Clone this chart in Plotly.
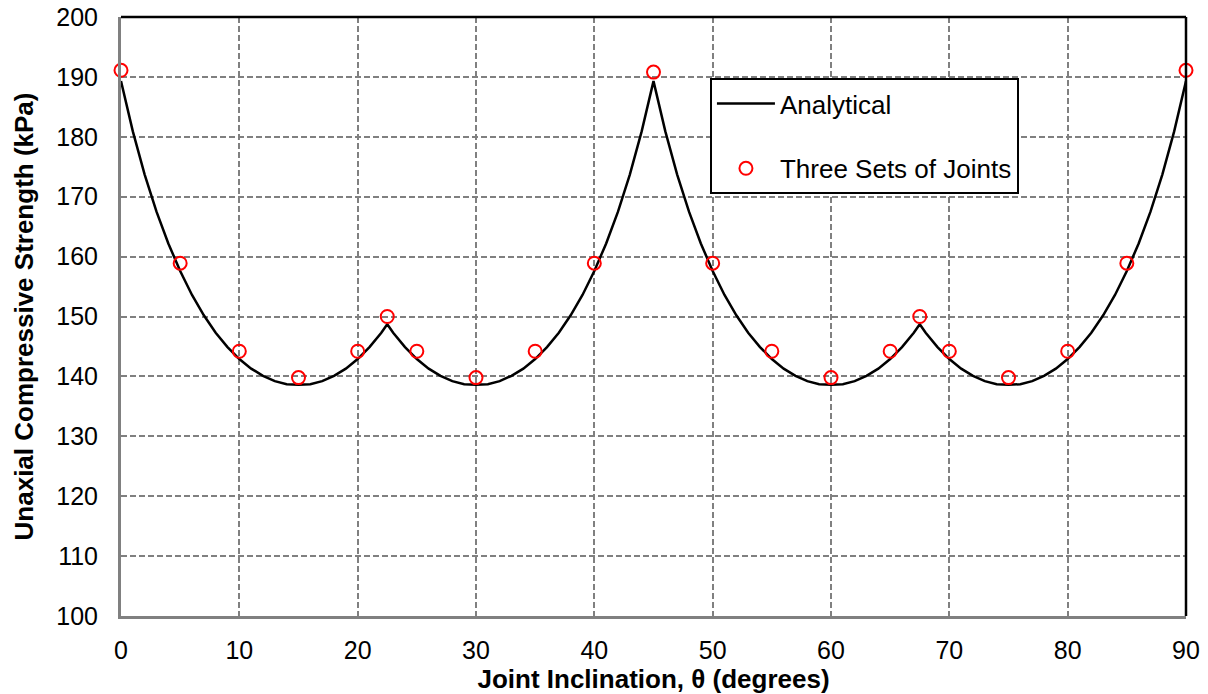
import plotly.graph_objects as go

# Analytical UCS curve (kPa) sampled along the joint inclination (degrees)
theta_analytical = [
    0, 1, 2, 3, 4, 5, 6, 7, 8, 9, 10, 11, 12, 13, 14, 15, 16, 17, 18, 19, 20, 21, 22, 22.5,
    23, 24, 25, 26, 27, 28, 29, 30, 31, 32, 33, 34, 35, 36, 37, 38, 39, 40, 41, 42, 43, 44, 45,
    46, 47, 48, 49, 50, 51, 52, 53, 54, 55, 56, 57, 58, 59, 60, 61, 62, 63, 64, 65, 66, 67, 67.5,
    68, 69, 70, 71, 72, 73, 74, 75, 76, 77, 78, 79, 80, 81, 82, 83, 84, 85, 86, 87, 88, 89, 90,
]
ucs_analytical = [
    189.3, 180.9, 173.7, 167.5, 162.2, 157.6, 153.6, 150.2, 147.3, 144.9, 142.9, 141.3,
    140.1, 139.2, 138.7, 138.6, 138.7, 139.2, 140.1, 141.3, 142.9, 144.9, 147.3, 148.7,
    147.3, 144.9, 142.9, 141.3, 140.1, 139.2, 138.7, 138.6, 138.7, 139.2, 140.1, 141.3,
    142.9, 144.9, 147.3, 150.2, 153.6, 157.6, 162.2, 167.5, 173.7, 180.9, 189.3,
    180.9, 173.7, 167.5, 162.2, 157.6, 153.6, 150.2, 147.3, 144.9, 142.9, 141.3,
    140.1, 139.2, 138.7, 138.6, 138.7, 139.2, 140.1, 141.3, 142.9, 144.9, 147.3, 148.7,
    147.3, 144.9, 142.9, 141.3, 140.1, 139.2, 138.7, 138.6, 138.7, 139.2, 140.1, 141.3,
    142.9, 144.9, 147.3, 150.2, 153.6, 157.6, 162.2, 167.5, 173.7, 180.9, 189.3,
]

# Numerical results for the model with three sets of joints
theta_joints = [0, 5, 10, 15, 20, 22.5, 25, 30, 35, 40, 45, 50, 55, 60, 65, 67.5, 70, 75, 80, 85, 90]
ucs_joints = [191.1, 158.9, 144.2, 139.8, 144.2, 150.0, 144.2, 139.8, 144.2, 158.9, 190.8,
              158.9, 144.2, 139.8, 144.2, 150.0, 144.2, 139.8, 144.2, 158.9, 191.1]

x_ticks = [0, 10, 20, 30, 40, 50, 60, 70, 80, 90]
y_ticks = [100, 110, 120, 130, 140, 150, 160, 170, 180, 190, 200]

FONT = "Liberation Sans, Arial, sans-serif"
GRID = "#808080"

fig = go.Figure()

fig.add_trace(go.Scatter(
    x=theta_analytical, y=ucs_analytical, mode="lines", name="Analytical",
    line=dict(color="black", width=2.5), legendgroup="a", cliponaxis=False,
))
fig.add_trace(go.Scatter(
    x=theta_joints, y=ucs_joints, mode="markers", name="Three Sets of Joints",
    marker=dict(symbol="circle-open", size=13, color="#ff0000", line=dict(width=2, color="#ff0000")),
    legendgroup="b", cliponaxis=False,
))

axis_common = dict(
    showgrid=True, gridcolor=GRID, gridwidth=1.5, griddash="6px,3px",
    zeroline=False, showline=True, linecolor=GRID, linewidth=3, mirror=False,
    ticks="", automargin=False,
    tickfont=dict(family=FONT, size=25, color="black"),
)

fig.update_xaxes(
    range=[0, 90], tickvals=x_ticks, ticklabelstandoff=10,
    title=dict(text="<b>Joint Inclination, θ (degrees)</b>", standoff=4,
               font=dict(family=FONT, size=26, color="black")),
    **axis_common,
)
fig.update_yaxes(
    range=[100, 200], tickvals=y_ticks, ticklabelstandoff=15,
    title=dict(text="<b>Unaxial Compressive Strength (kPa)</b>", standoff=16,
               font=dict(family=FONT, size=26, color="black")),
    **axis_common,
)

# Black frame on the top and right edges of the plotting area
fig.add_shape(type="line", xref="paper", yref="paper", x0=0, x1=1, y0=1, y1=1,
              line=dict(color="black", width=2.5), layer="above")
fig.add_shape(type="line", xref="paper", yref="paper", x0=1, x1=1, y0=0, y1=1,
              line=dict(color="black", width=2.5), layer="above")

fig.update_layout(
    width=1208, height=694,
    margin=dict(l=121, r=22, t=17, b=78, autoexpand=False),
    paper_bgcolor="white", plot_bgcolor="white",
    font=dict(family=FONT, color="black"),
    showlegend=True,
    legend=dict(
        x=0.553, y=0.898, xanchor="left", yanchor="top",
        bgcolor="white", bordercolor="black", borderwidth=2,
        font=dict(family=FONT, size=26, color="black"),
        tracegroupgap=28, itemwidth=58,
    ),
)

fig.write_html("out.html")
